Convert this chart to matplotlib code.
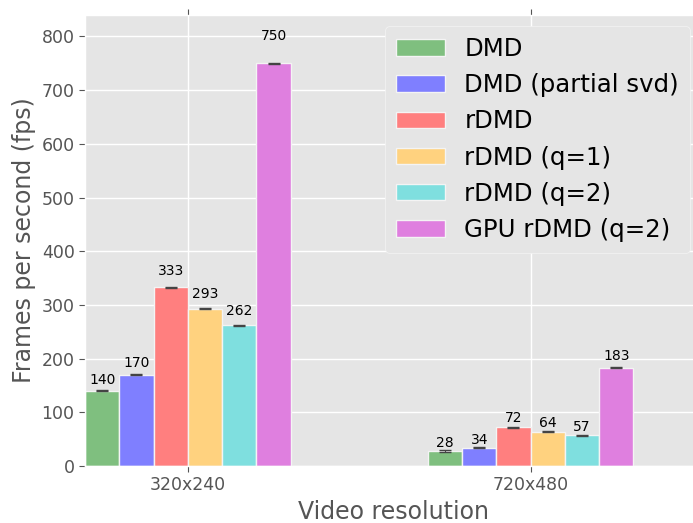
import matplotlib
matplotlib.use("Agg")
import matplotlib.pyplot as plt
import numpy as np

plt.style.use("ggplot")
plt.rcParams['font.family'] = ['DejaVu Sans']

resolutions = ["320x240", "720x480"]
methods = ["DMD", "DMD (partial svd)", "rDMD", "rDMD (q=1)", "rDMD (q=2)", "GPU rDMD (q=2)"]
fps_dmd = [140, 28]
fps_dmd_partial = [170, 34]
fps_rdmd = [333, 72]
fps_rdmd_q1 = [293, 64]
fps_rdmd_q2 = [262, 57]
fps_gpu = [750, 183]
errs = [1, 1]
series = [fps_dmd, fps_dmd_partial, fps_rdmd, fps_rdmd_q1, fps_rdmd_q2, fps_gpu]
colors = ["#7fbf7f", "#7f7fff", "#ff7f7f", "#ffd27f", "#7fdfdf", "#df7fdf"]

fig = plt.figure(figsize=(6.93, 5.23), dpi=100)
ax = fig.add_axes([85/693, 57/523, 617/693, 451/523])

x = np.arange(len(resolutions))
w = 0.1
for i, (name, vals) in enumerate(zip(methods, series)):
    pos = x + (i - 2.5) * w
    ax.bar(pos, vals, w, color=colors[i], edgecolor="#f4f4f4", linewidth=1,
           yerr=errs, capsize=4, error_kw=dict(ecolor="#444444", elinewidth=0.8, capthick=1),
           label=name, zorder=2)
    for p, v in zip(pos, vals):
        ax.text(p, 1.05 * v, str(v), ha="center", va="bottom", fontsize=10, color="black")

ax.set_xlim(-0.3, 1.5)
ax.set_ylim(0, 840)
ax.set_yticks(np.arange(0, 801, 100))
ax.set_xticks(x)
ax.set_xticklabels(resolutions)
ax.tick_params(axis="both", labelsize=12.5, colors="#555555", direction="out", length=4)
ax.tick_params(axis="x", top=True)
ax.set_ylabel("Frames per second (fps)", fontsize=17, color="#555555")
ax.set_xlabel("Video resolution", fontsize=17, color="#555555")
ax.grid(True, color="white", linewidth=1)
ax.set_axisbelow(True)

leg = ax.legend(loc="upper right", bbox_to_anchor=(690/693, 497/523),
                bbox_transform=fig.transFigure, borderaxespad=0, fontsize=17.6,
                frameon=True, facecolor="#E5E5E5", edgecolor="#f4f4f4",
                handlelength=2.0, handleheight=0.65, handletextpad=0.8,
                labelspacing=0.5, borderpad=0.45)
leg.get_frame().set_alpha(1)

fig.savefig("out.png", dpi=100)
